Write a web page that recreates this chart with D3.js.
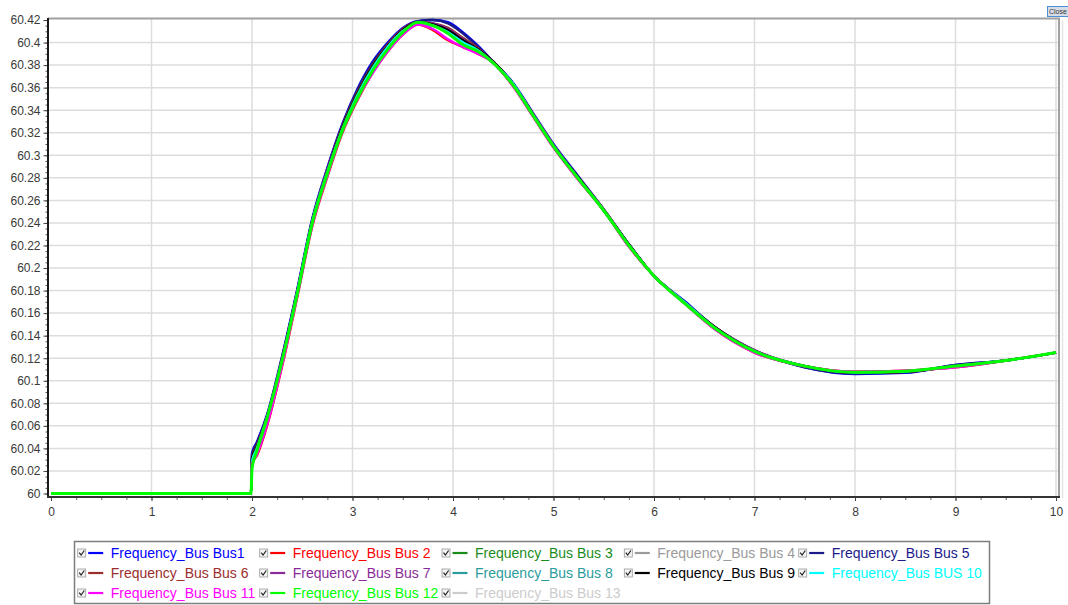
<!DOCTYPE html>
<html><head><meta charset="utf-8">
<script src="https://cdn.jsdelivr.net/npm/d3@7"></script>
<style>body{margin:0;background:#fff;}svg{display:block;font-family:Arial,"Liberation Sans",sans-serif;}</style>
</head><body><svg id="c" width="1068" height="605"></svg>
<script>
// ---- data ----
const time = [0,1.99,2.0,2.05,2.15,2.3,2.45,2.6,2.75,2.9,3.05,3.2,3.35,3.5,3.65,3.8,3.95,4.1,4.25,4.4,4.6,4.8,5.0,5.25,5.5,5.75,6.0,6.3,6.6,7.0,7.5,8.0,8.5,9.0,9.5,10];
const bus1  = [60,60,60.036,60.046,60.070,60.122,60.181,60.244,60.289,60.328,60.359,60.383,60.400,60.413,60.419,60.420,60.418,60.409,60.397,60.383,60.364,60.337,60.310,60.281,60.252,60.221,60.193,60.171,60.148,60.127,60.112,60.106,60.107,60.114,60.118,60.125];
const bus2  = [60,60,60.026,60.034,60.060,60.113,60.174,60.237,60.281,60.320,60.349,60.373,60.392,60.407,60.416,60.411,60.402,60.396,60.390,60.382,60.361,60.334,60.307,60.278,60.251,60.219,60.193,60.169,60.146,60.125,60.113,60.108,60.109,60.112,60.118,60.125];
const bus3  = [60,60,60.028,60.041,60.067,60.118,60.178,60.241,60.285,60.324,60.354,60.378,60.396,60.410,60.417,60.415,60.409,60.400,60.393,60.382,60.363,60.335,60.308,60.279,60.251,60.220,60.193,60.170,60.147,60.126,60.113,60.1075,60.1085,60.113,60.118,60.125];
const bus4  = [60,60,60.026,60.040,60.066,60.118,60.177,60.240,60.285,60.323,60.353,60.377,60.395,60.410,60.417,60.415,60.409,60.399,60.393,60.382,60.362,60.335,60.308,60.279,60.251,60.220,60.193,60.169,60.147,60.126,60.113,60.1075,60.1085,60.113,60.118,60.125];
const bus5  = [60,60,60.034,60.045,60.069,60.121,60.180,60.243,60.288,60.327,60.358,60.382,60.399,60.412,60.419,60.420,60.417,60.408,60.396,60.383,60.363,60.336,60.309,60.280,60.252,60.221,60.193,60.170,60.148,60.127,60.112,60.1065,60.1075,60.114,60.118,60.125];
const bus6  = [60,60,60.032,60.043,60.068,60.120,60.179,60.242,60.287,60.326,60.356,60.380,60.398,60.412,60.418,60.417,60.413,60.404,60.395,60.383,60.363,60.336,60.309,60.280,60.252,60.221,60.193,60.170,60.148,60.127,60.113,60.107,60.108,60.113,60.118,60.125];
const bus7  = [60,60,60.030,60.042,60.068,60.120,60.179,60.242,60.287,60.325,60.355,60.379,60.397,60.411,60.418,60.417,60.412,60.403,60.394,60.383,60.363,60.336,60.309,60.280,60.252,60.221,60.193,60.170,60.148,60.127,60.113,60.107,60.108,60.113,60.118,60.125];
const bus8  = [60,60,60.027,60.040,60.066,60.118,60.177,60.241,60.285,60.323,60.353,60.377,60.395,60.410,60.417,60.415,60.409,60.400,60.393,60.382,60.363,60.335,60.308,60.279,60.251,60.220,60.193,60.170,60.147,60.126,60.113,60.1075,60.1085,60.113,60.118,60.125];
const bus9  = [60,60,60.031,60.042,60.067,60.119,60.178,60.241,60.286,60.325,60.355,60.379,60.397,60.411,60.418,60.416,60.411,60.402,60.394,60.383,60.363,60.335,60.308,60.280,60.251,60.221,60.193,60.170,60.148,60.126,60.113,60.107,60.108,60.113,60.118,60.125];
const bus10 = [60,60,60.028,60.040,60.067,60.118,60.178,60.241,60.285,60.323,60.353,60.377,60.396,60.410,60.417,60.415,60.409,60.400,60.393,60.382,60.363,60.335,60.308,60.279,60.251,60.220,60.193,60.170,60.147,60.126,60.113,60.1075,60.1085,60.113,60.118,60.125];
const bus11 = [60,60,60.025,60.035,60.061,60.114,60.175,60.238,60.282,60.321,60.350,60.373,60.392,60.407,60.416,60.412,60.403,60.396,60.390,60.382,60.361,60.334,60.307,60.278,60.251,60.219,60.193,60.169,60.146,60.125,60.113,60.108,60.109,60.112,60.118,60.125];
const bus12 = [60,60,60.022,60.038,60.067,60.118,60.177,60.240,60.284,60.322,60.351,60.375,60.394,60.409,60.418,60.415,60.408,60.398,60.392,60.382,60.362,60.335,60.308,60.279,60.251,60.220,60.193,60.169,60.147,60.126,60.113,60.1075,60.1085,60.113,60.118,60.125];
const bus13 = [60,60,60.026,60.039,60.066,60.118,60.177,60.240,60.284,60.323,60.352,60.376,60.395,60.409,60.417,60.415,60.408,60.399,60.392,60.382,60.362,60.335,60.308,60.279,60.251,60.220,60.193,60.169,60.147,60.126,60.113,60.1075,60.1085,60.113,60.118,60.125];

const seriesNames = ["Frequency_Bus Bus1","Frequency_Bus Bus 2","Frequency_Bus Bus 3","Frequency_Bus Bus 4","Frequency_Bus Bus 5","Frequency_Bus Bus 6","Frequency_Bus Bus 7","Frequency_Bus Bus 8","Frequency_Bus Bus 9","Frequency_Bus BUS 10","Frequency_Bus Bus 11","Frequency_Bus Bus 12","Frequency_Bus Bus 13"];
const seriesValues = [bus1,bus2,bus3,bus4,bus5,bus6,bus7,bus8,bus9,bus10,bus11,bus12,bus13];
const seriesColors = ["#0000ff","#ff0000","#1a8c1a","#9a9a9a","#1a1a8a","#9b2d2d","#8a2a9a","#2a9c9c","#000000","#00ffff","#ff00ff","#00ff00","#cccccc"];
const xTicks = [0,1,2,3,4,5,6,7,8,9,10];
const yTicks = [60,60.02,60.04,60.06,60.08,60.1,60.12,60.14,60.16,60.18,60.2,60.22,60.24,60.26,60.28,60.3,60.32,60.34,60.36,60.38,60.4,60.42];
const yTickLabels = ["60","60.02","60.04","60.06","60.08","60.1","60.12","60.14","60.16","60.18","60.2","60.22","60.24","60.26","60.28","60.3","60.32","60.34","60.36","60.38","60.4","60.42"];

// ---- layout ----
const svg = d3.select("#c");
const x = d3.scaleLinear().domain([0,10]).range([51,1056]);
const y = d3.scaleLinear().domain([60,60.42]).range([493.5,20]);
const axisX = 48, axisY = 497, rightX = 1059, topY = 18.5;

// grid
const grid = svg.append("g");
grid.selectAll("line.h").data(yTicks.slice(1,-1)).join("line")
  .attr("x1",axisX).attr("x2",rightX).attr("y1",d=>y(d)).attr("y2",d=>y(d))
  .attr("stroke","#dddddd").attr("stroke-width",1.5);
grid.selectAll("line.v").data(xTicks.slice(1)).join("line")
  .attr("y1",topY).attr("y2",axisY).attr("x1",d=>x(d)).attr("x2",d=>x(d))
  .attr("stroke","#dddddd").attr("stroke-width",1.5);

// frame (top/right)
svg.append("line").attr("x1",axisX).attr("x2",rightX+1).attr("y1",topY).attr("y2",topY).attr("stroke","#a0a0a0").attr("stroke-width",2);
svg.append("line").attr("x1",rightX).attr("x2",rightX).attr("y1",topY).attr("y2",axisY).attr("stroke","#a0a0a0").attr("stroke-width",2);
svg.append("line").attr("x1",rightX+3.5).attr("x2",rightX+3.5).attr("y1",topY+2).attr("y2",axisY+1).attr("stroke","#e4e4e4").attr("stroke-width",1.5);

// axes
const yMinor = d3.range(0,85).map(i=>60+i*0.005);
const yAx = svg.append("g").attr("transform",`translate(${axisX},0)`);
yAx.call(d3.axisLeft(y).tickValues(yMinor).tickFormat("").tickSize(2.5));
yAx.call(g=>g.selectAll(".tick line").attr("stroke","#555"));
const yAx2 = svg.append("g").attr("transform",`translate(${axisX},0)`);
yAx2.call(d3.axisLeft(y).tickValues(yTicks).tickFormat((d,i)=>yTickLabels[i]).tickSize(4.5).tickPadding(3));
[yAx,yAx2].forEach(g=>g.select(".domain").remove());
yAx2.selectAll(".tick line").attr("stroke","#444");
yAx2.selectAll("text").attr("font-size",12).attr("fill","#3a3a3a").attr("font-family","Arial,'Liberation Sans',sans-serif");

const xMinor = d3.range(0,41).map(i=>i*0.25);
const xAx = svg.append("g").attr("transform",`translate(0,${axisY})`);
xAx.call(d3.axisBottom(x).tickValues(xMinor).tickFormat("").tickSize(3));
xAx.selectAll(".tick line").attr("stroke","#666");
const xAx2 = svg.append("g").attr("transform",`translate(0,${axisY})`);
xAx2.call(d3.axisBottom(x).tickValues(xTicks).tickFormat(d3.format("d")).tickSize(4).tickPadding(6));
[xAx,xAx2].forEach(g=>g.select(".domain").remove());
xAx2.selectAll(".tick line").attr("stroke","#444");
xAx2.selectAll("text").attr("font-size",12).attr("fill","#3a3a3a").attr("font-family","Arial,'Liberation Sans',sans-serif");

// series lines
const line = d3.line().x(d=>x(d[0])).y(d=>y(d[1])).curve(d3.curveMonotoneX);
const drawOrder = [12,3,0,4,5,6,8,7,2,9,1,10,11];
svg.append("g").selectAll("path").data(drawOrder).join("path")
  .attr("d",i=>line(time.map((t,k)=>[t,seriesValues[i][k]])))
  .attr("fill","none").attr("stroke",i=>seriesColors[i])
  .attr("stroke-width",i=>i===11?3:2.4).attr("stroke-linejoin","round");

// axis lines
svg.append("line").attr("x1",axisX).attr("x2",axisX).attr("y1",topY-0.5).attr("y2",axisY+1).attr("stroke","#1a1a1a").attr("stroke-width",2);
svg.append("line").attr("x1",axisX-1).attr("x2",rightX+1).attr("y1",axisY).attr("y2",axisY).attr("stroke","#333").attr("stroke-width",2);

// legend
const legCols = [110.7,292.7,475,657.3,831.7];
const legRows = [554.5,574.5,594.5];
svg.append("rect").attr("x",74.5).attr("y",541.5).attr("width",915).attr("height",62)
  .attr("fill","#fff").attr("stroke","#7d7d7d").attr("stroke-width",1.5);
const items = svg.append("g").selectAll("g").data(seriesNames.map((n,i)=>i)).join("g")
  .attr("transform",i=>`translate(${legCols[i%5]},${legRows[Math.floor(i/5)]})`);
items.append("rect").attr("x",-33).attr("y",-5.5).attr("width",8).attr("height",8)
  .attr("fill","#f4f4f4").attr("stroke","#9a9a9a").attr("stroke-width",0.8);
items.append("path").attr("d","M-31.5,-1.8 L-29.6,0.6 L-26.4,-4").attr("fill","none").attr("stroke","#222").attr("stroke-width",1.2);
items.append("line").attr("x1",-22.5).attr("x2",-7.5).attr("y1",-1.5).attr("y2",-1.5)
  .attr("stroke",i=>seriesColors[i]).attr("stroke-width",2.2);
items.append("text").attr("x",0).attr("y",3.5).attr("font-size",14).attr("fill",i=>seriesColors[i])
  .text(i=>seriesNames[i]);

// close button
const cp = svg.append("clipPath").attr("id","cbclip");
cp.append("rect").attr("x",1047).attr("y",6).attr("width",21).attr("height",11);
const cb = svg.append("g").attr("clip-path","url(#cbclip)");
cb.append("rect").attr("x",1047.5).attr("y",6.5).attr("width",22).attr("height",10).attr("fill","#d6dde6").attr("stroke","#4a8fd6").attr("stroke-width",1);
cb.append("text").attr("x",1049).attr("y",14).attr("font-size",7).attr("fill","#333").text("Close");
</script></body></html>
